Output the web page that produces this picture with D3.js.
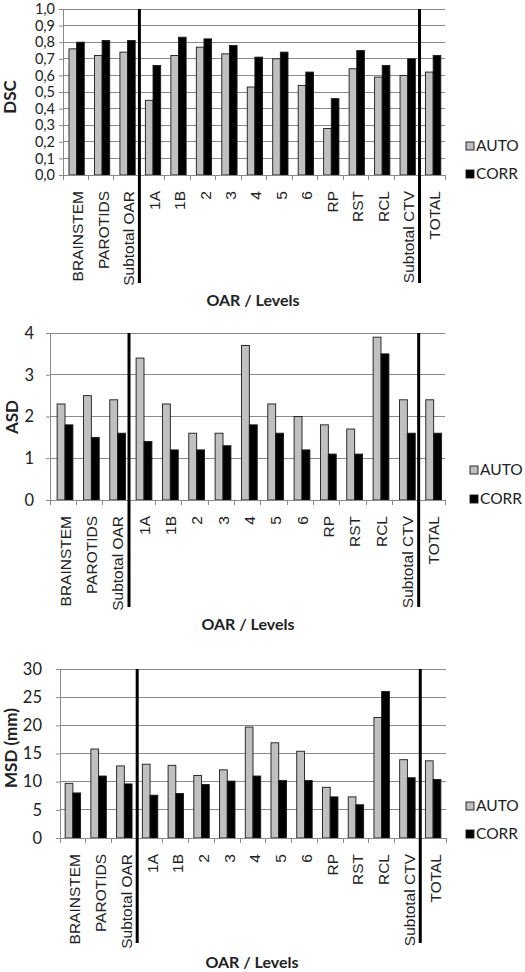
<!DOCTYPE html>
<html><head><meta charset="utf-8">
<script src="https://cdn.jsdelivr.net/npm/d3@7"></script>
<style>
html,body{margin:0;padding:0;background:#fff;}
svg{display:block;font-family:Lato,"Open Sans",sans-serif;}
</style></head>
<body><svg id="c" width="525" height="972"></svg>
<script>
const categories = ["BRAINSTEM","PAROTIDS","Subtotal OAR","1A","1B","2","3","4","5","6","RP","RST","RCL","Subtotal CTV","TOTAL"];
const seriesNames = ["AUTO","CORR"];
const dscAuto = [0.76,0.72,0.74,0.45,0.72,0.77,0.73,0.53,0.70,0.54,0.28,0.64,0.59,0.60,0.62];
const dscCorr = [0.80,0.81,0.81,0.66,0.83,0.82,0.78,0.71,0.74,0.62,0.46,0.75,0.66,0.70,0.72];
const asdAuto = [2.3,2.5,2.4,3.4,2.3,1.6,1.6,3.7,2.3,2.0,1.8,1.7,3.9,2.4,2.4];
const asdCorr = [1.8,1.5,1.6,1.4,1.2,1.2,1.3,1.8,1.6,1.2,1.1,1.1,3.5,1.6,1.6];
const msdAuto = [9.7,15.8,12.8,13.1,12.9,11.1,12.1,19.7,16.9,15.4,9.0,7.3,21.4,13.9,13.7];
const msdCorr = [8.0,11.0,9.6,7.6,7.9,9.5,10.1,11.0,10.2,10.2,7.3,5.9,26.0,10.7,10.4];
const dscTicks = [0,0.1,0.2,0.3,0.4,0.5,0.6,0.7,0.8,0.9,1.0];
const asdTicks = [0,1,2,3,4];
const msdTicks = [0,5,10,15,20,25,30];
const separatorsAfter = ["Subtotal OAR","Subtotal CTV"];
const yTitles = ["DSC","ASD","MSD (mm)"];
const xTitle = "OAR / Levels";

const svg = d3.select("#c");
const colors = {AUTO:"#c0c0c0", CORR:"#000000"};

function drawChart(o){
  const g = svg.append("g");
  const x = d3.scaleBand().domain(categories).range([o.left,o.right]).padding(0);
  const bw = x.bandwidth();
  const x1 = d3.scaleBand().domain(seriesNames).range([bw*o.barStart, bw*(o.barStart+0.6)]).padding(0);
  const y = d3.scaleLinear().domain([o.ticks[0], o.ticks[o.ticks.length-1]]).range([o.bottom,o.top]);

  g.append("g").selectAll("line").data(o.ticks.slice(1)).join("line")
    .attr("x1",o.left).attr("x2",o.right).attr("y1",d=>y(d)).attr("y2",d=>y(d))
    .attr("stroke","#8a8a8a").attr("stroke-width",1).attr("shape-rendering","crispEdges");

  const ya = g.append("g").attr("transform",`translate(${o.left},0)`)
    .call(d3.axisLeft(y).tickValues(o.ticks).tickFormat(o.fmt).tickSize(4).tickPadding(o.labelGap));
  ya.select(".domain").attr("stroke","#8a8a8a");
  ya.selectAll(".tick line").attr("stroke","#8a8a8a");
  ya.selectAll("text").attr("font-size",o.yFont).attr("fill","#222").attr("font-family","Lato");

  const rows = categories.map((c,i)=>({c, vals:[{k:"AUTO",v:o.auto[i]},{k:"CORR",v:o.corr[i]}]}));
  const grp = g.append("g").selectAll("g").data(rows).join("g").attr("transform",d=>`translate(${x(d.c)},0)`);
  grp.selectAll("rect").data(d=>d.vals).join("rect")
    .attr("x",d=>x1(d.k)).attr("width",x1.bandwidth())
    .attr("y",d=>y(d.v)).attr("height",d=>y(o.ticks[0])-y(d.v))
    .attr("fill",d=>colors[d.k]).attr("stroke","#1a1a1a").attr("stroke-width",0.9);

  const xa = g.append("g").attr("transform",`translate(0,${o.bottom})`)
    .call(d3.axisBottom(x).tickSize(0).tickFormat(d=>d));
  xa.select(".domain").attr("stroke","#8a8a8a");
  xa.selectAll(".tick text").attr("transform","rotate(-90)").attr("text-anchor","end")
    .attr("x",-16).attr("y",2).attr("dy","0.35em").attr("font-size",15.5).attr("fill","#222");
  const bounds = categories.map(c=>x(c)).concat([o.right]);
  g.append("g").selectAll("line").data(bounds).join("line")
    .attr("x1",d=>d).attr("x2",d=>d).attr("y1",o.bottom).attr("y2",o.bottom+5)
    .attr("stroke","#8a8a8a").attr("shape-rendering","crispEdges");

  g.append("g").selectAll("line").data(separatorsAfter).join("line")
    .attr("x1",d=>x(d)+bw).attr("x2",d=>x(d)+bw).attr("y1",o.top).attr("y2",o.sepBottom)
    .attr("stroke","#000").attr("stroke-width",3);

  g.append("text").attr("transform",`translate(${o.ytx},${o.yty}) rotate(-90)`)
    .attr("text-anchor","middle").attr("dy","0.35em").attr("font-weight","bold").attr("font-size",17).attr("fill","#222").text(o.ytitle);
  g.append("text").attr("x",o.xtx).attr("y",o.xty).attr("text-anchor","middle").attr("dy","0.35em")
    .attr("font-weight","bold").attr("font-size",16).attr("fill","#222").text(xTitle);

  const lg = g.append("g").selectAll("g").data(seriesNames).join("g")
    .attr("transform",(d,i)=>`translate(${o.legX},${o.legY[i]})`);
  lg.append("rect").attr("x",0).attr("y",-4).attr("width",8).attr("height",8)
    .attr("fill",d=>colors[d]).attr("stroke","#1a1a1a").attr("stroke-width",0.9);
  lg.append("text").attr("x",10).attr("y",0).attr("dy","0.35em").attr("font-size",15.5).attr("fill","#222").text(d=>d);
}

drawChart({auto:dscAuto,corr:dscCorr,ticks:dscTicks,fmt:d=>d3.format(".1f")(d).replace(".",","),
  left:63,right:445,top:9,bottom:175,sepBottom:283,barStart:0.235,labelGap:4,yFont:14.5,
  ytitle:yTitles[0],ytx:10,yty:97,xtx:253,xty:300,legX:466,legY:[146,174]});
drawChart({auto:asdAuto,corr:asdCorr,ticks:asdTicks,fmt:d=>d,
  left:50,right:445,top:333,bottom:500,sepBottom:607,barStart:0.27,labelGap:12,yFont:16.5,
  ytitle:yTitles[1],ytx:12,yty:417,xtx:248,xty:624,legX:470,legY:[470,499]});
drawChart({auto:msdAuto,corr:msdCorr,ticks:msdTicks,fmt:d=>d,
  left:60,right:446,top:669,bottom:838,sepBottom:943,barStart:0.2,labelGap:14,yFont:16.5,
  ytitle:yTitles[2],ytx:11,yty:748,xtx:252,xty:962,legX:466,legY:[806,834]});
</script></body></html>
